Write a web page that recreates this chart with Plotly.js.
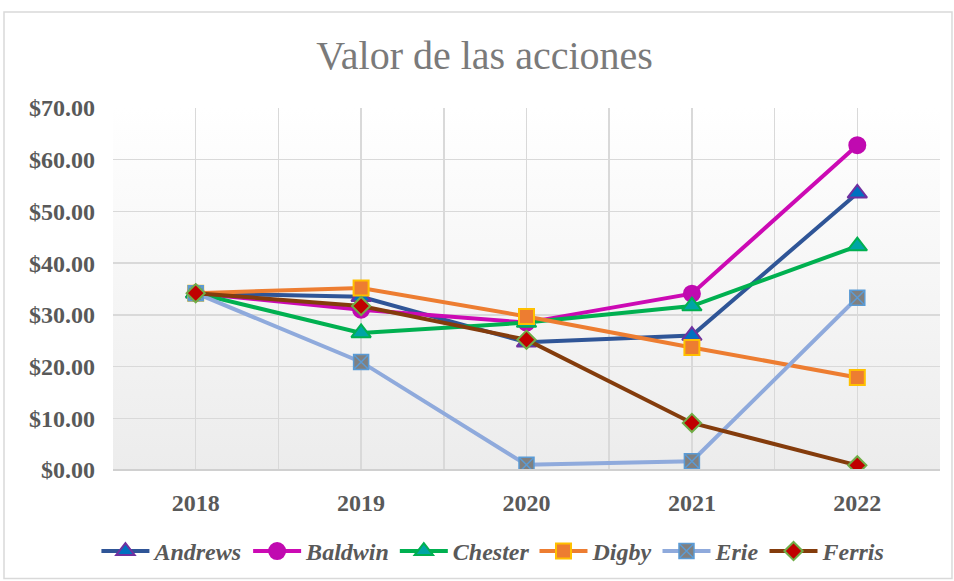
<!DOCTYPE html>
<html>
<head>
<meta charset="utf-8">
<script src="https://cdn.plot.ly/plotly-3.0.1.min.js"></script>
<style>html,body{margin:0;padding:0;background:#fff;}#chart{width:954px;height:581px;}</style>
</head>
<body>
<div id="chart"></div>
<script>
const years = [2018, 2019, 2020, 2021, 2022];
const andrews = [34.2, 33.5, 24.7, 26.0, 53.5];
const baldwin = [34.2, 31.0, 28.5, 34.1, 62.8];
const chester = [34.2, 26.5, 28.5, 31.7, 43.3];
const digby   = [34.2, 35.2, 29.7, 23.7, 17.9];
const erie    = [34.2, 20.9, 1.0, 1.7, 33.3];
const ferris  = [34.2, 31.7, 25.2, 9.1, 0.9];
const yTicks = [0, 10, 20, 30, 40, 50, 60, 70];
const yTickText = yTicks.map(v => '$' + v.toFixed(2));

function tr(name, y, lineColor, symbol, mColor, mLine, size, lw) {
  return {
    x: years, y: y, name: name, type: 'scatter', mode: 'lines+markers',
    line: {color: lineColor, width: 4},
    marker: {symbol: symbol, color: mColor, size: size, line: {color: mLine, width: lw}}
  };
}
const data = [
  tr('Andrews', andrews, '#2F5597', 'triangle-up', '#0070C0', '#7030A0', 17, 2),
  tr('Baldwin', baldwin, '#CC0AB4', 'circle', '#C00AB0', '#C00AB0', 16, 2),
  tr('Chester', chester, '#00B050', 'triangle-up', '#00A5A5', '#00B050', 17, 2),
  tr('Digby', digby, '#ED7D31', 'square', '#ED7D31', '#FFC000', 15, 2),
  tr('Erie', erie, '#8FAADC', 'square-x', '#808080', '#5B9BD5', 15, 1.5),
  tr('Ferris', ferris, '#843C0C', 'diamond', '#C00000', '#70AD47', 14, 2)
];

const grad = 'data:image/svg+xml;utf8,' + encodeURIComponent(
  '<svg xmlns="http://www.w3.org/2000/svg" width="100" height="100" preserveAspectRatio="none">' +
  '<defs><linearGradient id="g" x1="0" y1="0" x2="0" y2="1">' +
  '<stop offset="0" stop-color="#ffffff"/><stop offset="1" stop-color="#ececec"/></linearGradient></defs>' +
  '<rect width="100" height="100" fill="url(#g)"/></svg>');

const xTickVals = [2017.5, 2018, 2018.5, 2019, 2019.5, 2020, 2020.5, 2021, 2021.5, 2022, 2022.5];
const xTickText = xTickVals.map(v => Number.isInteger(v) ? String(v) : '');
const serif = 'Liberation Serif, Times New Roman, serif';

const layout = {
  width: 954, height: 581,
  margin: {l: 113, r: 14, t: 108, b: 111, autoexpand: false},
  paper_bgcolor: '#ffffff',
  plot_bgcolor: 'rgba(0,0,0,0)',
  title: {text: 'Valor de las acciones', x: 0.508, xanchor: 'center', y: 0.905, yanchor: 'middle',
    font: {family: serif, size: 40, color: '#7a7a7a'}},
  xaxis: {
    range: [2017.5, 2022.5], tickmode: 'array', tickvals: xTickVals, ticktext: xTickText,
    showgrid: true, gridcolor: '#d9d9d9', gridwidth: 1.5, zeroline: false,
    showline: false, ticks: '', ticklen: 0, ticklabelstandoff: 16,
    tickfont: {family: serif, size: 24, color: '#595959', weight: 'bold'}
  },
  yaxis: {
    range: [0, 70], tickmode: 'array', tickvals: yTicks, ticktext: yTickText,
    showgrid: true, gridcolor: '#d9d9d9', gridwidth: 1.5, zeroline: false,
    showline: false, ticks: '', ticklabelstandoff: 17,
    tickfont: {family: serif, size: 24, color: '#595959', weight: 'bold'}
  },
  images: [{source: grad, xref: 'paper', yref: 'paper', x: 0, y: 1, sizex: 1, sizey: 1,
    xanchor: 'left', yanchor: 'top', sizing: 'stretch', layer: 'below'}],
  shapes: [
    {type: 'line', xref: 'paper', yref: 'paper', x0: 0, x1: 1, y0: 0, y1: 0, line: {color: '#d0d0d0', width: 2}},
    {type: 'rect', xref: 'paper', yref: 'paper', x0: -0.1318, x1: 1.0145, y0: -0.30, y1: 1.265,
      line: {color: '#d9d9d9', width: 1.5}, fillcolor: 'rgba(0,0,0,0)', layer: 'below'}
  ],
  showlegend: true,
  legend: {orientation: 'h', x: 0.46, xanchor: 'center', y: -0.225, yanchor: 'middle',
    font: {family: serif, size: 24, color: '#595959', weight: 'bold', style: 'italic'},
    itemwidth: 48, tracegroupgap: 0, bgcolor: 'rgba(0,0,0,0)'}
};

Plotly.newPlot('chart', data, layout, {displayModeBar: false, staticPlot: true});
</script>
</body>
</html>
